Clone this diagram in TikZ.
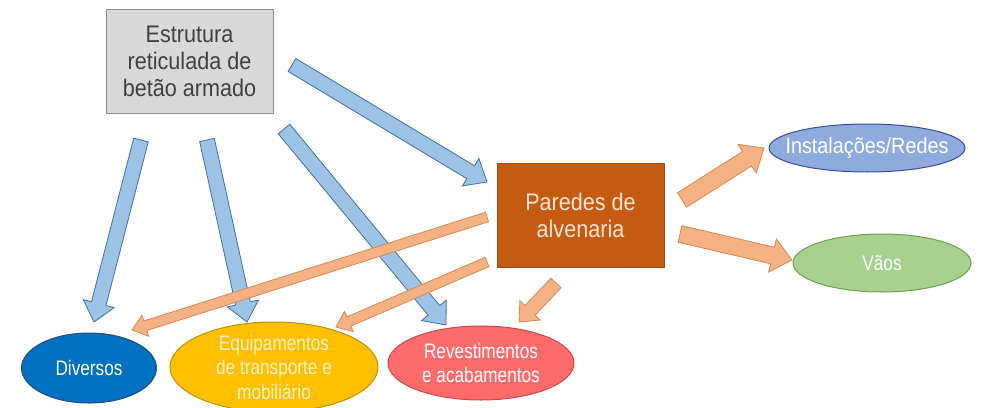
\documentclass[tikz,border=0pt]{standalone}
\usepackage{fontspec}
\setmainfont{Liberation Sans}
\newfontfamily\boxfont{Liberation Sans}[FakeStretch=0.9]
\newfontfamily\midfont{Liberation Sans}[FakeStretch=0.9]
\newfontfamily\narrowfont{Liberation Sans}[FakeStretch=0.82]
\usetikzlibrary{calc, shapes.geometric}

\definecolor{boxGray}{HTML}{D9D9D9}
\definecolor{boxGrayLine}{HTML}{8C8C8C}
\definecolor{wallFill}{HTML}{C55A11}
\definecolor{wallText}{HTML}{FBE5D6}
\definecolor{netFill}{HTML}{8FAADC}
\definecolor{netLine}{HTML}{3C4A9C}
\definecolor{gapFill}{HTML}{A9D18E}
\definecolor{gapLine}{HTML}{6F9F50}
\definecolor{miscFill}{HTML}{0070C0}
\definecolor{miscLine}{HTML}{1F4E79}
\definecolor{equipFill}{HTML}{FFC000}
\definecolor{equipLine}{HTML}{BF9000}
\definecolor{equipText}{HTML}{FFF2CC}
\definecolor{finishFill}{HTML}{FF6B6B}
\definecolor{finishLine}{HTML}{C84848}
\definecolor{blueArrow}{HTML}{9DC3E6}
\definecolor{blueArrowLine}{HTML}{41719C}
\definecolor{orangeArrow}{HTML}{F4B183}
\definecolor{orangeArrowLine}{HTML}{D9884E}

% block arrow: style, tail, tip, half shaft, half head, head length
\newcommand{\blockarrow}[6]{%
  \draw[#1] ($(#2)!#4!90:(#3)$)
    -- ($(#3)!#6!(#2)!#4!90:(#3)$)
    -- ($(#3)!#6!(#2)!#5!90:(#3)$)
    -- (#3)
    -- ($(#3)!#6!(#2)!#5!-90:(#3)$)
    -- ($(#3)!#6!(#2)!#4!-90:(#3)$)
    -- ($(#2)!#4!-90:(#3)$) -- cycle;}

\begin{document}
\begin{tikzpicture}[
    x = 1pt,
    y = -1pt,
    align = center,
    block/.style = {rectangle, inner sep = 0pt, line width = 1pt,
      minimum width = 167pt, minimum height = 104pt,
      font = \boxfont\fontsize{24}{27}\selectfont},
    value/.style = {ellipse, inner sep = 0pt, line width = 1pt,
      font = \narrowfont\fontsize{21}{24.5}\selectfont},
    bluearrow/.style = {fill = blueArrow, draw = blueArrowLine, line width = 0.8pt},
    orangearrow/.style = {fill = orangeArrow, draw = orangeArrowLine, line width = 0.8pt}
  ]
    \useasboundingbox (0, 0) rectangle (987, 407);

    \node[block, fill = boxGray, draw = boxGrayLine, text = black!75] (estrutura) at (189.5, 61.5) {Estrutura\\reticulada de\\betão armado};
    \node[block, fill = wallFill, draw = wallFill!85!black, text = wallText] (paredes) at (580.5, 215.5) {Paredes de\\alvenaria};
    \node[value, fill = netFill, draw = netLine, text = white, minimum width = 196pt, minimum height = 48pt,
      inner xsep = -25pt, font = \midfont\fontsize{22}{25}\selectfont] (instalacoes) at (867, 148) {Instalações/Redes};
    \node[value, fill = gapFill, draw = gapLine, text = white, minimum width = 178pt, minimum height = 58pt] (vaos) at (882, 263) {Vãos};
    \node[value, fill = miscFill, draw = miscLine, text = white, minimum width = 135pt, minimum height = 70pt] (diversos) at (89, 368) {Diversos};
    \node[value, fill = equipFill, draw = equipLine, text = equipText, minimum width = 208pt, minimum height = 90pt,
      inner ysep = -9pt] (equipamentos) at (274, 367) {Equipamentos\\de transporte e\\mobiliário};
    \node[value, fill = finishFill, draw = finishLine, text = white, minimum width = 186pt, minimum height = 74pt,
      inner ysep = -3pt] (revestimentos) at (481, 363) {Revestimentos\\e acabamentos};

    % arrow ends
    \coordinate (est_div_a) at (141, 140);
    \coordinate (est_div_b) at (94, 322);
    \coordinate (est_equ_a) at (207, 140);
    \coordinate (est_equ_b) at (247, 322);
    \coordinate (est_rev_a) at (284, 129);
    \coordinate (est_rev_b) at (446, 325);
    \coordinate (est_par_a) at (292, 65);
    \coordinate (est_par_b) at (487, 182);
    \coordinate (par_div_a) at (487, 217);
    \coordinate (par_div_b) at (132, 330);
    \coordinate (par_equ_a) at (487, 262);
    \coordinate (par_equ_b) at (336, 327);
    \coordinate (par_rev_a) at (556, 283);
    \coordinate (par_rev_b) at (519, 322);
    \coordinate (par_ins_a) at (682, 200);
    \coordinate (par_ins_b) at (764, 148);
    \coordinate (par_vao_a) at (680, 234);
    \coordinate (par_vao_b) at (792, 260);

    \blockarrow{bluearrow}{est_div_a}{est_div_b}{7.5pt}{16pt}{19pt}
    \blockarrow{bluearrow}{est_equ_a}{est_equ_b}{7.5pt}{16pt}{19pt}
    \blockarrow{bluearrow}{est_rev_a}{est_rev_b}{7.5pt}{16pt}{19pt}
    \blockarrow{bluearrow}{est_par_a}{est_par_b}{7.5pt}{16pt}{19pt}

    \blockarrow{orangearrow}{par_div_a}{par_div_b}{5pt}{11pt}{14pt}
    \blockarrow{orangearrow}{par_equ_a}{par_equ_b}{5pt}{11pt}{14pt}
    \blockarrow{orangearrow}{par_rev_a}{par_rev_b}{7pt}{14pt}{16pt}
    \blockarrow{orangearrow}{par_ins_a}{par_ins_b}{8.5pt}{17pt}{20pt}
    \blockarrow{orangearrow}{par_vao_a}{par_vao_b}{8.5pt}{17pt}{20pt}
  \end{tikzpicture}
\end{document}
